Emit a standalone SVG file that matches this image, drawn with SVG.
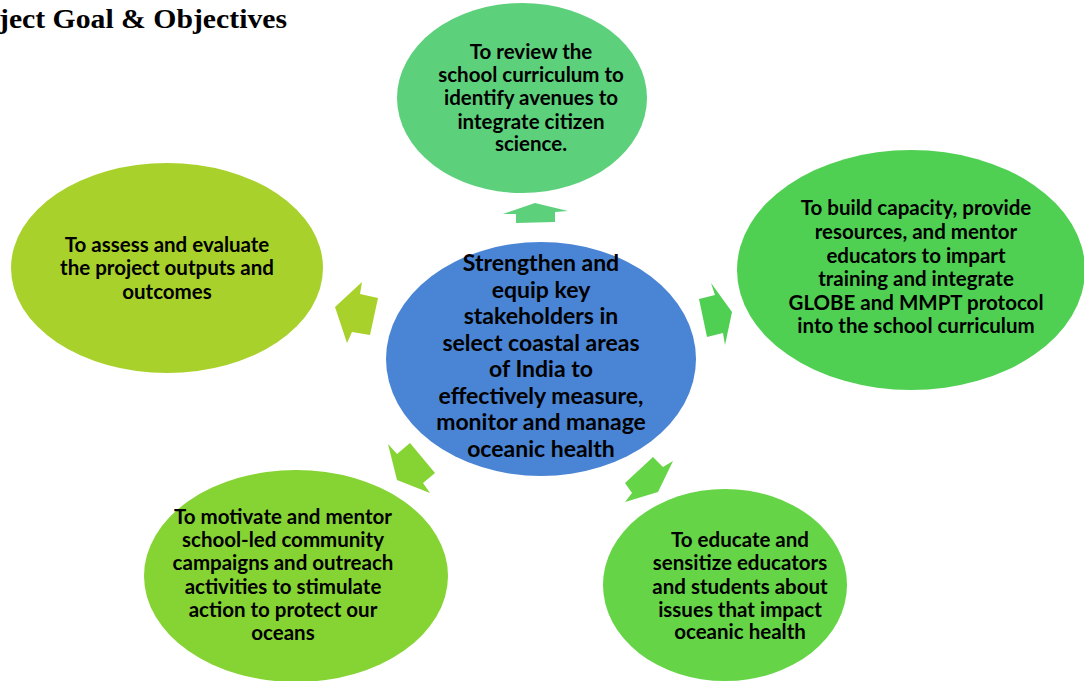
<svg xmlns="http://www.w3.org/2000/svg" width="1084" height="681" viewBox="0 0 1084 681">
<style>
.t{font-family:Lato,"Open Sans",sans-serif;font-weight:bold;font-size:20.5px;fill:#000;text-anchor:middle}
.c{font-size:23px}
.title{font-family:"Liberation Serif",serif;font-weight:bold;font-size:27px;fill:#000}
</style>
<rect width="1084" height="681" fill="#fff"/>
<text class="title" x="-1" y="28" textLength="288" lengthAdjust="spacingAndGlyphs">ject Goal &amp; Objectives</text>
<g id="connectors">
<polygon points="535,203 568,211 555,212 555,222 516,223 516,214 503,214" fill="#5dd07c"/>
<polygon points="335,307 362,282 360,294 378,298 370,335 352,332 347,343" fill="#a8d12b"/>
<polygon points="732,312 725,345 723,333 707,337 699,299 715,295 711,283" fill="#4fd052"/>
<polygon points="397,480 388,444 397,454 410,443 435,473 423,483 430,493" fill="#86d334"/>
<polygon points="658,492 625,502 632,493 625,483 653,457 663,467 673,461" fill="#66d447"/>
</g>
<g id="n-top">
<ellipse cx="522" cy="98" rx="125" ry="95" fill="#5dd07c"/>
<text class="t" x="531" y="59">To review the</text>
<text class="t" x="531" y="82">school curriculum to</text>
<text class="t" x="531" y="105">identify avenues to</text>
<text class="t" x="531" y="129">integrate citizen</text>
<text class="t" x="531" y="151">science.</text>
</g>
<g id="n-right">
<ellipse cx="911" cy="270" rx="174" ry="120" fill="#4fd052"/>
<text class="t" x="916" y="215">To build capacity, provide</text>
<text class="t" x="916" y="239">resources, and mentor</text>
<text class="t" x="916" y="263">educators to impart</text>
<text class="t" x="916" y="286">training and integrate</text>
<text class="t" x="916" y="310">GLOBE and MMPT protocol</text>
<text class="t" x="916" y="333">into the school curriculum</text>
</g>
<g id="n-left">
<ellipse cx="167" cy="268" rx="156" ry="105" fill="#a8d12b"/>
<text class="t" x="167" y="252">To assess and evaluate</text>
<text class="t" x="167" y="275">the project outputs and</text>
<text class="t" x="167" y="299">outcomes</text>
</g>
<g id="n-bottom-left">
<ellipse cx="296" cy="576" rx="152" ry="106" fill="#86d334"/>
<text class="t" x="283" y="524">To motivate and mentor</text>
<text class="t" x="283" y="547">school-led community</text>
<text class="t" x="283" y="570">campaigns and outreach</text>
<text class="t" x="283" y="594">activities to stimulate</text>
<text class="t" x="283" y="617">action to protect our</text>
<text class="t" x="283" y="640">oceans</text>
</g>
<g id="n-bottom-right">
<ellipse cx="725" cy="585" rx="122" ry="96" fill="#66d447"/>
<text class="t" x="740" y="547">To educate and</text>
<text class="t" x="740" y="570">sensitize educators</text>
<text class="t" x="740" y="594">and students about</text>
<text class="t" x="740" y="617">issues that impact</text>
<text class="t" x="740" y="639">oceanic health</text>
</g>
<g id="n-center">
<ellipse cx="541" cy="359" rx="155" ry="117" fill="#4a84d4"/>
<text class="t c" x="541" y="271">Strengthen and</text>
<text class="t c" x="541" y="298">equip key</text>
<text class="t c" x="541" y="324">stakeholders in</text>
<text class="t c" x="541" y="351">select coastal areas</text>
<text class="t c" x="541" y="377">of India to</text>
<text class="t c" x="541" y="404">effectively measure,</text>
<text class="t c" x="541" y="430">monitor and manage</text>
<text class="t c" x="541" y="457">oceanic health</text>
</g>
</svg>
